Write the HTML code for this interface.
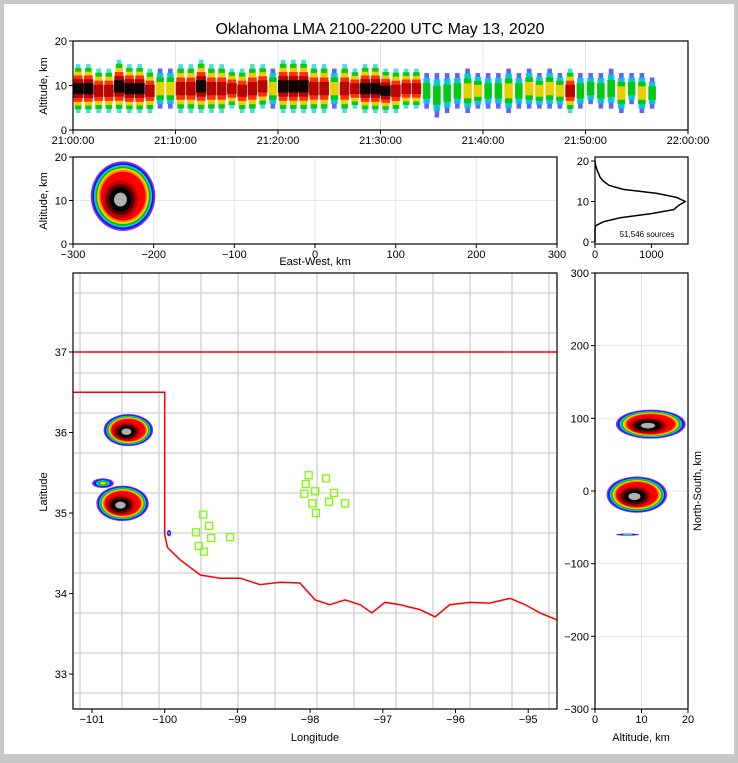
<!DOCTYPE html>
<html><head><meta charset="utf-8"><style>
html,body{margin:0;padding:0;background:#c8c8c8;overflow:hidden}
#wrap{position:absolute;left:0;top:0;width:738px;height:758px}
svg text{font-family:"Liberation Sans","DejaVu Sans",sans-serif;fill:#000}
</style></head><body>
<div id="wrap">
<svg id="fig" width="738" height="758" xmlns="http://www.w3.org/2000/svg">
<rect x="4" y="4" width="730" height="750" fill="#fff"/>
<text x="380" y="34" font-size="16" text-anchor="middle">Oklahoma LMA 2100-2200 UTC May 13, 2020</text>
</svg>
</div>
<script>
// ---- data ----
const timeTickLabels=["21:00:00","21:10:00","21:20:00","21:30:00","21:40:00","21:50:00","22:00:00"];
const minuteIntensity=[4,4,3,3,4,4,4,3,2,2,3,3,4,3,3,3,3,3,3,2,4,4,4,3,3,2,3,3,4,4,4,3,3,3,1,1,1,1,2,2,1,1,2,1,2,2,2,2,3,1,1,1,1,2,1,2,1,0,0,0];
const minuteLowAlt=[5,5,5,5,5,5,5,5,6,6,5,5,5,5,5,6,5,5,6,6,5,5,5,5,5,6,5,6,5,5,5,5,6,6,6,4,5,6,5,6,6,6,5,6,6,6,6,6,5,6,7,6,6,5,7,5,6,7,7,8];
const minuteHighAlt=[16,16,15,15,17,16,16,15,15,15,16,16,17,16,16,15,15,16,16,15,17,17,17,16,16,15,16,15,16,16,15,15,15,15,14,14,14,14,15,14,14,14,15,14,15,14,15,14,15,14,14,14,15,14,14,14,13,12,12,12];
const histAlt=[0,1,2,3,4,5,6,7,8,9,10,11,12,13,14,15,16,17,18,19,20];
const histCount=[0,0,0,0,10,150,450,1000,1400,1480,1600,1450,1100,500,250,150,90,60,30,10,0];
const ewBlobs=[{ew:-238,alt:11,rx:40,ry:8,level:5}];
const mapBlobs=[{lon:-100.50,lat:36.03,rx:0.34,ry:0.2,level:5},{lon:-100.58,lat:35.12,rx:0.36,ry:0.22,level:5},{lon:-100.85,lat:35.37,rx:0.15,ry:0.06,level:2},{lon:-99.94,lat:34.75,rx:0.03,ry:0.04,level:1}];
const nsBlobs=[{alt:12,ns:92,rx:7.5,ry:20,level:5},{alt:9,ns:-5,rx:6.5,ry:25,level:5},{alt:7,ns:-60,rx:2.5,ry:1.5,level:1}];
const stationLon=[-98.02,-97.78,-98.06,-97.93,-98.08,-97.67,-97.97,-97.74,-97.52,-97.92,-99.47,-99.39,-99.57,-99.36,-99.10,-99.53,-99.46];
const stationLat=[35.47,35.43,35.36,35.27,35.24,35.25,35.12,35.14,35.12,35.00,34.98,34.84,34.76,34.69,34.70,34.59,34.52];
const redRiverLon=[-100.0,-99.96,-99.79,-99.51,-99.24,-98.96,-98.69,-98.41,-98.14,-97.93,-97.73,-97.52,-97.31,-97.15,-96.97,-96.76,-96.49,-96.28,-96.08,-95.80,-95.53,-95.25,-95.04,-94.84,-94.60];
const redRiverLat=[34.73,34.57,34.42,34.23,34.19,34.19,34.11,34.14,34.13,33.92,33.86,33.92,33.86,33.76,33.89,33.86,33.80,33.71,33.86,33.89,33.88,33.94,33.86,33.76,33.67];

const NS="http://www.w3.org/2000/svg";
const svg=document.getElementById('fig');
function el(tag,attrs,parent){const e=document.createElementNS(NS,tag);for(const k in attrs)e.setAttribute(k,attrs[k]);(parent||svg).appendChild(e);return e;}
function txt(x,y,s,size,anchor,parent,rot){const t=el('text',{x:x,y:y,'font-size':size||11,'text-anchor':anchor||'middle'},parent);if(rot)t.setAttribute('transform','rotate(-90 '+x+' '+y+')');t.textContent=s;return t;}
const palette=['#2020ff','#00d0d0','#00c800','#ffd000','#ff2000','#b00000','#000000'];

// ---- Panel 1: time-height ----
const P1={x0:73,x1:688,y0:41,y1:130};
const tx=m=>P1.x0+(m/60)*(P1.x1-P1.x0);
const ty1=a=>P1.y1-(a/20)*(P1.y1-P1.y0);
const g1=el('g',{});


for(let i=1;i<6;i++){el('line',{x1:tx(i*10),x2:tx(i*10),y1:P1.y0,y2:P1.y1,stroke:'#e6e6e6'},g1);}
minuteIntensity.forEach((v,i)=>{
  if(v<=0){return;}
  const lo=minuteLowAlt[i],hi=minuteHighAlt[i],mid=(lo+hi)/2-1.2;
  const layers=v+1;
  const w=tx(i+1)-tx(i);
  for(let k=0;k<=layers;k++){
    const half=(hi-lo)/2*(1-k/(layers+1.5));
    const ci=Math.min(6,k+(v>=3?1:0));
    const frac=k===0?0.45:(0.55+0.1*k);
    const r=el('rect',{x:tx(i)+w*(1-Math.min(1,frac))/2,y:ty1(mid+half),width:w*Math.min(1,frac),height:Math.max(1,ty1(mid-half)-ty1(mid+half)),fill:palette[ci],opacity:k===0?0.7:0.9},g1);
    
    
  }
});
el('rect',{x:P1.x0,y:P1.y0,width:P1.x1-P1.x0,height:P1.y1-P1.y0,fill:'none',stroke:'#000','stroke-width':1.2},g1);
[0,10,20].forEach(a=>{el('line',{x1:P1.x0-4,x2:P1.x0,y1:ty1(a),y2:ty1(a),stroke:'#000'},g1);const t=txt(P1.x0-6,ty1(a)+4,String(a),11,'end',g1);});
timeTickLabels.forEach((s,i)=>{el('line',{x1:tx(i*10),x2:tx(i*10),y1:P1.y1,y2:P1.y1+4,stroke:'#000'},g1);const t=txt(tx(i*10),P1.y1+14,s,11,'middle',g1);});
{const t=txt(47,86,'Altitude, km',11,'middle',g1,true);}

function blob(g,cx,cy,rx,ry,level){
  const cols=['#8a2be2','#1010ff','#00d0d0','#00c000','#ffd000','#ff8000','#ff0000','#c00000','#600000','#000000','#b0b0b0'];
  const fr=[1,0.95,0.9,0.85,0.8,0.75,0.7,0.55,0.45,0.35,0.2];
  const n=level>=5?cols.length:Math.min(cols.length,level*2+1);
  for(let k=0;k<n;k++){const f=level>=5?fr[k]:1-k/(n+0.5);
    const e=el('ellipse',{cx:cx+(k>6?-rx*0.08:0),cy:cy+(k>6?ry*0.1:0),rx:Math.max(1,rx*f),ry:Math.max(1,ry*f),fill:cols[k]},g);
    
    }
}

// ---- Panel 2: EW-altitude ----
const P2={x0:73,x1:557,y0:157,y1:244};
const ex=v=>P2.x0+(v+300)/600*(P2.x1-P2.x0);
const ey=a=>P2.y1-(a/20)*(P2.y1-P2.y0);
const g2=el('g',{});


[-200,-100,0,100,200].forEach(v=>el('line',{x1:ex(v),x2:ex(v),y1:P2.y0,y2:P2.y1,stroke:'#e6e6e6'},g2));
el('line',{x1:P2.x0,x2:P2.x1,y1:ey(10),y2:ey(10),stroke:'#e6e6e6'},g2);
const clip2=el('clipPath',{id:'c2'},g2);el('rect',{x:P2.x0,y:P2.y0,width:P2.x1-P2.x0,height:P2.y1-P2.y0},clip2);
const g2b=el('g',{'clip-path':'url(#c2)'},g2);
ewBlobs.forEach(b=>blob(g2b,ex(b.ew),ey(b.alt),ex(b.ew+b.rx)-ex(b.ew),ey(b.alt)-ey(b.alt+b.ry),b.level));
el('rect',{x:P2.x0,y:P2.y0,width:P2.x1-P2.x0,height:P2.y1-P2.y0,fill:'none',stroke:'#000','stroke-width':1.2},g2);
[0,10,20].forEach(a=>{el('line',{x1:P2.x0-4,x2:P2.x0,y1:ey(a),y2:ey(a),stroke:'#000'},g2);txt(P2.x0-6,ey(a)+4,String(a),11,'end',g2);});
[-300,-200,-100,0,100,200,300].forEach(v=>{el('line',{x1:ex(v),x2:ex(v),y1:P2.y1,y2:P2.y1+4,stroke:'#000'},g2);txt(ex(v),P2.y1+14,String(v).replace('-','\u2212'),11,'middle',g2);});
{const t=txt(315,265,'East-West, km',11,'middle',g2);}
{const t=txt(47,201,'Altitude, km',11,'middle',g2,true);}

// ---- Histogram ----
const P3={x0:595,x1:688,y0:157,y1:244};
const hx=c=>P3.x0+c/1650*(P3.x1-P3.x0);
const hy=a=>242-(a/20)*(242-161);
const g3=el('g',{});


const pts=histAlt.map((a,i)=>hx(histCount[i])+','+hy(a)).join(' ');
{const p=el('polyline',{points:pts,fill:'none',stroke:'#000','stroke-width':1.5},g3);}
el('rect',{x:P3.x0,y:P3.y0,width:P3.x1-P3.x0,height:P3.y1-P3.y0,fill:'none',stroke:'#000','stroke-width':1.2},g3);
[0,10,20].forEach(a=>{el('line',{x1:P3.x0-4,x2:P3.x0,y1:hy(a),y2:hy(a),stroke:'#000'},g3);txt(P3.x0-6,hy(a)+4,String(a),11,'end',g3);});
[0,1000].forEach(c=>{el('line',{x1:hx(c),x2:hx(c),y1:P3.y1,y2:P3.y1+4,stroke:'#000'},g3);txt(hx(c),P3.y1+14,String(c),11,'middle',g3);});
{const t=txt(647,237,'51,546 sources',8,'middle',g3);}

// ---- Map ----
const P4={x0:73,x1:557,y0:273,y1:709};
const mx=lon=>92+(lon+101)*72.7;
const my=lat=>352-(lat-37)*80.5;
const g4=el('g',{});


const cg=el('g',{stroke:'#d0d0d0','stroke-width':1.3,fill:'none'},g4);


for(let x=80;x<557;x+=39){el('line',{x1:x+((x*7)%5),x2:x+((x*7)%5),y1:273,y2:709},cg);}
for(let y=293;y<709;y+=40){el('line',{x1:73,x2:557,y1:y,y2:y},cg);}
el('polyline',{points:[[73,my(37)],[557,my(37)]].map(p=>p.join(',')).join(' '),fill:'none',stroke:'#f00','stroke-width':1.5},g4);
const pan=[[73,my(36.5)],[mx(-100),my(36.5)],[mx(-100),my(redRiverLat[0])]].concat(redRiverLon.map((l,i)=>[mx(l),my(redRiverLat[i])]));
{const p=el('polyline',{points:pan.map(p=>p.join(',')).join(' '),fill:'none',stroke:'#f00','stroke-width':1.5},g4);}
mapBlobs.forEach(b=>blob(g4,mx(b.lon),my(b.lat),b.rx*72.7,b.ry*80.5,b.level));
stationLon.forEach((l,i)=>{const r=el('rect',{x:mx(l)-3.5,y:my(stationLat[i])-3.5,width:7,height:7,fill:'none',stroke:'#7cfc00','stroke-width':1.3},g4);});
el('rect',{x:P4.x0,y:P4.y0,width:P4.x1-P4.x0,height:P4.y1-P4.y0,fill:'none',stroke:'#000','stroke-width':1.2},g4);
[37,36,35,34,33].forEach(a=>{el('line',{x1:P4.x0-4,x2:P4.x0,y1:my(a),y2:my(a),stroke:'#000'},g4);txt(P4.x0-6,my(a)+4,String(a),11,'end',g4);});
[-101,-100,-99,-98,-97,-96,-95].forEach(v=>{el('line',{x1:mx(v),x2:mx(v),y1:P4.y1,y2:P4.y1+4,stroke:'#000'},g4);txt(mx(v),P4.y1+14,String(v).replace('-','\u2212'),11,'middle',g4);});
{const t=txt(315,741,'Longitude',11,'middle',g4);}
{const t=txt(47,492,'Latitude',11,'middle',g4,true);}

// ---- NS-altitude ----
const P5={x0:595,x1:688,y0:273,y1:709};
const nx=a=>P5.x0+a/20*(P5.x1-P5.x0);
const ny=v=>P5.y1-(v+300)/600*(P5.y1-P5.y0);
const g5=el('g',{});


[-200,-100,0,100,200].forEach(v=>el('line',{x1:P5.x0,x2:P5.x1,y1:ny(v),y2:ny(v),stroke:'#e6e6e6'},g5));
el('line',{x1:nx(10),x2:nx(10),y1:P5.y0,y2:P5.y1,stroke:'#e6e6e6'},g5);
const clip5=el('clipPath',{id:'c5'},g5);el('rect',{x:P5.x0,y:P5.y0,width:P5.x1-P5.x0,height:P5.y1-P5.y0},clip5);
const g5b=el('g',{'clip-path':'url(#c5)'},g5);
nsBlobs.forEach(b=>blob(g5b,nx(b.alt),ny(b.ns),nx(b.rx)-nx(0),ny(b.ns)-ny(b.ns+b.ry),b.level));
el('rect',{x:P5.x0,y:P5.y0,width:P5.x1-P5.x0,height:P5.y1-P5.y0,fill:'none',stroke:'#000','stroke-width':1.2},g5);
[-300,-200,-100,0,100,200,300].forEach(v=>{el('line',{x1:P5.x0-4,x2:P5.x0,y1:ny(v),y2:ny(v),stroke:'#000'},g5);txt(P5.x0-6,ny(v)+4,String(v).replace('-','\u2212'),11,'end',g5);});
[0,10,20].forEach(a=>{el('line',{x1:nx(a),x2:nx(a),y1:P5.y1,y2:P5.y1+4,stroke:'#000'},g5);txt(nx(a),P5.y1+14,String(a),11,'middle',g5);});
{const t=txt(641,741,'Altitude, km',11,'middle',g5);}
{const t=txt(701,491,'North-South, km',11,'middle',g5,true);}
</script>
</body></html>
